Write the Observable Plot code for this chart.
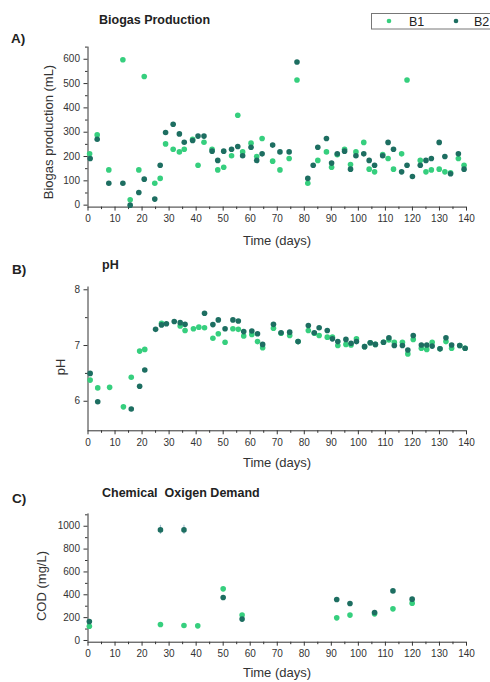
<!DOCTYPE html>
<html>
<head>
<meta charset="utf-8">
<script src="https://cdn.jsdelivr.net/npm/d3@7"></script>
<script src="https://cdn.jsdelivr.net/npm/@observablehq/plot@0.6"></script>
<style>
  html, body { margin: 0; padding: 0; background: #fff; }
  #fig { position: relative; width: 490px; height: 682px; overflow: hidden; font-family: "Liberation Sans", Arial, sans-serif; }
  #fig > svg { position: absolute; left: 0; }
</style>
</head>
<body>
<div id="fig"></div>
<script>
// ---------- DATA ----------
const seriesNames = ["B1", "B2"];
const seriesColors = ["#36cf7e", "#1d6e61"];

// A) Biogas production (mL)
const biogasDaysB1 = [0.6,3.4,7.7,12.9,15.6,18.8,20.8,24.7,26.7,28.7,31.5,33.8,35.6,38.7,40.7,42.9,45.9,48,50.2,53.1,55.4,57.2,60.3,62.4,64.4,68.3,71,74.4,77.3,81.3,85,88.2,90.1,92.2,94.9,97.1,99.1,102,104,106,109,111,113,116,118,122.9,125,127,129.9,132,134.1,137,139.1];
const biogasB1 = [211,289,145,598,22,145,529,90,110,252,230,219,230,271,164,259,230,145,156,203,370,219,255,200,274,181,145,192,515,90,184,219,156,207,230,167,219,258,148,137,208,192,148,211,515,184,137,145,148,137,133,192,164];
const biogasDaysB2 = [0.8,3.4,7.7,12.9,15.6,18.8,20.8,24.7,26.7,28.7,31.5,33.8,35.6,38.7,40.7,42.9,45.9,48,50.2,53.1,55.4,57.2,60.3,62.4,64.4,68.3,71,74.4,77.3,81.3,83.3,85,88.2,90.1,92.2,94.9,97.1,99.1,102,104,106,109,111,113,116,118,120,122.9,125,127,129.9,132,134.1,137,139.1];
const biogasB2 = [192,271,90,90,0,52,107,25,164,299,333,293,259,266,284,284,222,184,222,230,241,203,238,184,211,247,219,219,589,110,164,238,274,173,211,222,148,203,211,184,164,203,258,230,137,164,118,164,184,192,258,200,129,211,148];

// B) pH
const phDaysB1 = [0.8,3.6,8,13.1,16,19.1,21,27.2,34.1,35.9,39,41,43.1,46.2,48.2,50.7,53.6,55.6,57.6,60.6,62.7,64.6,68.6,71.4,74.6,77.7,81.5,83.7,85.5,88.5,90.4,92.4,95.4,97.3,99.3,102.3,104.4,106.3,109.3,111.3,113.3,116.3,118.3,120.3,123.3,125.3,127.3,130.2,132.4,134.5,137.5,139.5];
const phB1 = [6.38,6.24,6.25,5.90,6.43,6.90,6.93,7.40,7.35,7.27,7.30,7.33,7.32,7.13,7.21,7.06,7.30,7.29,7.17,7.20,7.07,6.96,7.31,7.22,7.18,7.07,7.27,7.22,7.18,7.15,7.15,7.00,7.02,7.01,7.12,6.98,7.05,7.02,7.06,7.10,7.06,7.06,6.85,7.11,6.95,6.93,7.06,6.94,7.07,6.95,7.00,6.95];
const phDaysB2 = [0.8,3.6,16,19.1,21,25,27.2,29,31.9,34.1,35.9,43.1,46.2,48.2,50.7,53.6,55.6,57.6,60.6,62.7,64.6,68.6,71.4,74.6,77.7,81.5,83.7,85.5,88.5,90.4,92.4,95.4,97.3,99.3,102.3,104.4,106.3,109.3,111.3,113.3,116.3,118.3,120.3,123.3,125.3,127.3,130.2,132.4,134.5,137.5,139.5];
const phB2 = [6.50,5.99,5.86,6.27,6.56,7.29,7.37,7.39,7.43,7.41,7.38,7.58,7.375,7.46,7.30,7.46,7.44,7.25,7.26,7.21,7.02,7.38,7.23,7.24,7.07,7.36,7.23,7.32,7.27,7.12,7.07,7.11,7.04,7.07,6.98,7.05,7.02,7.06,7.14,7.00,7.00,6.92,7.18,7.01,7.01,6.99,6.94,7.14,7.01,7.00,6.95];

// C) Chemical Oxigen Demand (mg/L)
const codDaysB1 = [0.5,26.8,35.5,40.6,50,57,92,96.9,106,112.8,119.9];
const codB1 = [125,140,131,128,452,222,198,222,233,277,327];
const codDaysB2 = [0.5,26.8,35.5,50,57,92,96.9,106,112.8,119.9];
const codB2 = [166,968,968,376,187,359,324,245,434,362];
const codErrB2 = [0,40,40,0,0,0,0,0,0,0];

// tick values
const timeTicks = [0,10,20,30,40,50,60,70,80,90,100,110,120,130,140];
const timeMinor = [5,15,25,35,45,55,65,75,85,95,105,115,125,135];
const biogasTicks = [0,100,200,300,400,500,600];
const biogasMinor = [50,150,250,350,450,550,650];
const phTicks = [6,7,8];
const phMinor = [6.5,7.5];
const codTicks = [0,200,400,600,800,1000];
const codMinor = [100,300,500,700,900,1100];

// ---------- DRAW ----------
const FONT = "'Liberation Sans', Arial, sans-serif";
const rows = (days, vals) => days.map((d, i) => ({day: d, value: vals[i]}));

function panel({top, height, mt, mb, yDomain, yTicks, yMinor, b1, b2, extra = []}) {
  const svg = Plot.plot({
    width: 490, height,
    marginLeft: 87.5, marginRight: 24, marginTop: mt, marginBottom: mb,
    style: {fontFamily: FONT, fontSize: "10px", color: "#333", background: "transparent", overflow: "visible"},
    x: {domain: [0, 140]},
    y: {domain: yDomain},
    marks: [
      Plot.axisX({ticks: timeTicks, tickSize: 4, tickPadding: 4, label: null, tickFormat: d => String(d), stroke: "#333"}),
      Plot.axisX({ticks: timeMinor, tickSize: 2.5, label: null, tickFormat: () => "", stroke: "#333"}),
      Plot.axisY({ticks: yTicks, tickSize: 4, tickPadding: 4, label: null, tickFormat: d => String(d), stroke: "#333"}),
      Plot.axisY({ticks: yMinor, tickSize: 2.5, label: null, tickFormat: () => "", stroke: "#333"}),
      Plot.ruleX([0], {stroke: "#333", strokeWidth: 1}),
      Plot.ruleY([yDomain[0]], {stroke: "#333", strokeWidth: 1}),
      ...extra,
      Plot.dot(b1, {x: "day", y: "value", r: 2.8, fill: seriesColors[0], stroke: "none"}),
      Plot.dot(b2, {x: "day", y: "value", r: 2.8, fill: seriesColors[1], stroke: "none"})
    ]
  });
  svg.style.top = top + "px";
  return svg;
}

const fig = document.getElementById("fig");

fig.appendChild(panel({
  top: 0, height: 250, mt: 46.6, mb: 43.4,
  yDomain: [-8, 650], yTicks: biogasTicks, yMinor: biogasMinor,
  b1: rows(biogasDaysB1, biogasB1), b2: rows(biogasDaysB2, biogasB2)
}));

fig.appendChild(panel({
  top: 250, height: 220, mt: 36.5, mb: 39.7,
  yDomain: [5.47, 8.05], yTicks: phTicks, yMinor: phMinor,
  b1: rows(phDaysB1, phB1), b2: rows(phDaysB2, phB2)
}));

const codErrRows = codDaysB2.map((d, i) => ({day: d, lo: codB2[i] - codErrB2[i], hi: codB2[i] + codErrB2[i], e: codErrB2[i]})).filter(r => r.e > 0);
fig.appendChild(panel({
  top: 470, height: 212, mt: 43.4, mb: 40.3,
  yDomain: [-15, 1108], yTicks: codTicks, yMinor: codMinor,
  b1: rows(codDaysB1, codB1), b2: rows(codDaysB2, codB2),
  extra: [Plot.ruleX(codErrRows, {x: "day", y1: "lo", y2: "hi", stroke: "#a9c3d3", strokeWidth: 1.2})]
}));

// ---------- TEXT OVERLAY (titles, axis titles, legend) ----------
const ov = d3.select(fig).append("svg")
  .attr("width", 490).attr("height", 682)
  .style("top", "0px").style("pointer-events", "none")
  .style("font-family", FONT);

function txt(x, y, s, opts = {}) {
  const t = ov.append("text").attr("x", x).attr("y", y).text(s)
    .attr("fill", opts.fill || "#222")
    .attr("font-size", opts.size || 13)
    .attr("font-weight", opts.bold ? "bold" : "normal")
    .attr("text-anchor", opts.anchor || "start")
    .style("white-space", "pre").attr("xml:space", "preserve");
  if (opts.rotate) t.attr("transform", `rotate(-90 ${x} ${y})`);
  return t;
}

// Panel A
txt(11, 43, "A)", {bold: true, size: 13.5});
txt(99, 24, "Biogas Production", {bold: true, size: 12.5});
txt(53, 132, "Biogas production (mL)", {size: 13, anchor: "middle", rotate: true, fill: "#333"});
txt(277, 244.5, "Time (days)", {size: 13, anchor: "middle", fill: "#333"});

// Panel B
txt(12, 274, "B)", {bold: true, size: 13.5});
txt(102, 268.5, "pH", {bold: true, size: 12.5});
txt(65, 367, "pH", {size: 13, anchor: "middle", rotate: true, fill: "#333"});
txt(277, 467, "Time (days)", {size: 13, anchor: "middle", fill: "#333"});

// Panel C
txt(12, 503, "C)", {bold: true, size: 13.5});
txt(102, 497, "Chemical  Oxigen Demand", {bold: true, size: 12.5});
txt(46, 586, "COD (mg/L)", {size: 13, anchor: "middle", rotate: true, fill: "#333"});
txt(277, 676.5, "Time (days)", {size: 13, anchor: "middle", fill: "#333"});

// Legend
ov.append("rect").attr("x", 371.5).attr("y", 13.5).attr("width", 130).attr("height", 15.5)
  .attr("fill", "#fff").attr("stroke", "#777").attr("stroke-width", 1);
const legX = [389, 456], legT = [409, 474];
seriesNames.forEach((n, i) => {
  ov.append("circle").attr("cx", legX[i]).attr("cy", 21).attr("r", 2.3).attr("fill", seriesColors[i]);
  txt(legT[i], 25.5, n, {size: 12.5, fill: "#222"});
});
</script>
</body>
</html>
